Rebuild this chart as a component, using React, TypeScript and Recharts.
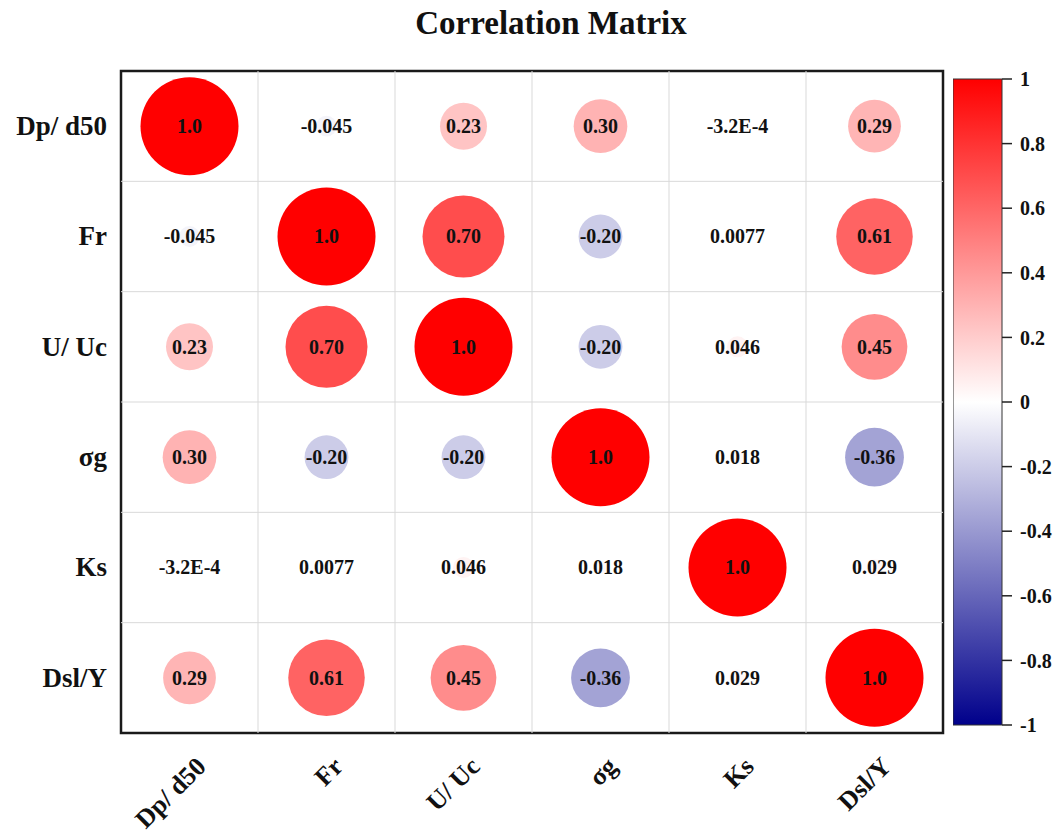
import React from 'react';
import {
  ScatterChart,
  Scatter,
  XAxis,
  YAxis,
  ZAxis,
  ReferenceLine,
  ReferenceArea,
  ComposedChart,
  Bar,
} from 'recharts';

// Variable names, shared by rows (top to bottom) and columns (left to right)
const variables = ['Dp/ d50', 'Fr', 'U/ Uc', 'σg', 'Ks', 'Dsl/Y'];

// Pearson correlation coefficients, one row per variable
const rowDp = [1.0, -0.045, 0.23, 0.3, -3.2e-4, 0.29];
const rowFr = [-0.045, 1.0, 0.7, -0.2, 0.0077, 0.61];
const rowUUc = [0.23, 0.7, 1.0, -0.2, 0.046, 0.45];
const rowSigma = [0.3, -0.2, -0.2, 1.0, 0.018, -0.36];
const rowKs = [-3.2e-4, 0.0077, 0.046, 0.018, 1.0, 0.029];
const rowDsl = [0.29, 0.61, 0.45, -0.36, 0.029, 1.0];

const matrixRows = [rowDp, rowFr, rowUUc, rowSigma, rowKs, rowDsl];

// Colour-bar range and tick values
const colorbarRange = [-1, 1];
const colorbarTicks = [-1, -0.8, -0.6, -0.4, -0.2, 0, 0.2, 0.4, 0.6, 0.8, 1];

const SERIF = '"Liberation Serif", "Times New Roman", Times, serif';
const MAX_RADIUS = 49;

const n = variables.length;
const centerTicks = variables.map((_, i) => i + 0.5);
const gridLines = variables.slice(1).map((_, i) => i + 1);

const cells = matrixRows.flatMap((row, r) =>
  row.map((value, c) => ({
    x: c + 0.5,
    y: r + 0.5,
    value,
    absR: Math.abs(value),
  }))
);

const colorbarData = [{ name: 'r', band: colorbarRange }];

// white -> red for positive, white -> navy for negative
function corrColor(v: number): string {
  const t = Math.min(1, Math.abs(v));
  if (v >= 0) {
    const g = Math.round(255 * (1 - t));
    return `rgb(255,${g},${g})`;
  }
  const rg = Math.round(255 * (1 - t));
  const b = Math.round(255 - 116 * t);
  return `rgb(${rg},${rg},${b})`;
}

function formatCorr(v: number): string {
  if (Math.abs(v) < 0.001 && v !== 0) {
    return v.toExponential(1).toUpperCase();
  }
  return v.toPrecision(2);
}

const CorrCell = (props: any) => {
  const { cx, cy, width, size, payload } = props;
  let rad = typeof width === 'number' ? width / 2 : Math.sqrt(Math.max(size || 0, 0) / Math.PI);
  if (!isFinite(rad)) rad = 0;
  return (
    <g>
      <circle cx={cx} cy={cy} r={rad} fill={corrColor(payload.value)} />
      <text
        x={cx}
        y={cy}
        dy="0.34em"
        textAnchor="middle"
        fontFamily={SERIF}
        fontWeight={700}
        fontSize={20}
        fill="#111"
      >
        {formatCorr(payload.value)}
      </text>
    </g>
  );
};

const YTick = (props: any) => {
  const { x, y, payload } = props;
  return (
    <text
      x={x}
      y={y}
      dy="0.33em"
      textAnchor="end"
      fontFamily={SERIF}
      fontWeight={700}
      fontSize={27}
      fill="#111"
    >
      {variables[Math.floor(payload.value)]}
    </text>
  );
};

const XTick = (props: any) => {
  const { x, y, payload } = props;
  const ax = x + 18;
  const ay = y + 35;
  return (
    <text
      x={ax}
      y={ay}
      textAnchor="end"
      transform={`rotate(-45, ${ax}, ${ay})`}
      fontFamily={SERIF}
      fontWeight={700}
      fontSize={26}
      fill="#111"
    >
      {variables[Math.floor(payload.value)]}
    </text>
  );
};

export default function App() {
  return (
    <div
      style={{
        position: 'absolute',
        left: 0,
        top: 0,
        width: 1059,
        height: 832,
        background: '#fff',
        fontFamily: SERIF,
      }}
    >
      <div
        style={{
          position: 'absolute',
          left: 0,
          top: 7,
          width: 1102,
          textAlign: 'center',
          fontFamily: SERIF,
          fontWeight: 700,
          fontSize: 33,
          lineHeight: '33px',
          color: '#111',
        }}
      >
        Correlation Matrix
      </div>

      <div style={{ position: 'absolute', left: 0, top: 0 }}>
        <ScatterChart
          width={1059}
          height={832}
          margin={{ top: 71, left: 11, right: 116, bottom: 39 }}
        >
          <XAxis
            type="number"
            dataKey="x"
            domain={[0, n]}
            ticks={centerTicks}
            interval={0}
            axisLine={false}
            tickLine={false}
            tickSize={0}
            tickMargin={0}
            height={60}
            tick={<XTick />}
            allowDataOverflow
          />
          <YAxis
            type="number"
            dataKey="y"
            domain={[0, n]}
            reversed
            ticks={centerTicks}
            interval={0}
            axisLine={false}
            tickLine={false}
            tickSize={0}
            tickMargin={14}
            width={110}
            tick={<YTick />}
            allowDataOverflow
          />
          <ZAxis
            type="number"
            dataKey="absR"
            domain={[0, 1]}
            range={[0, Math.PI * MAX_RADIUS * MAX_RADIUS]}
          />
          {gridLines.map((g) => (
            <ReferenceLine key={`vx${g}`} x={g} stroke="#d9d9d9" strokeWidth={1} />
          ))}
          {gridLines.map((g) => (
            <ReferenceLine key={`hy${g}`} y={g} stroke="#d9d9d9" strokeWidth={1} />
          ))}
          <Scatter data={cells} shape={<CorrCell />} isAnimationActive={false} />
          <ReferenceArea
            x1={0}
            x2={n}
            y1={0}
            y2={n}
            fill="none"
            fillOpacity={0}
            stroke="#1a1a1a"
            strokeWidth={2.5}
            ifOverflow="visible"
          />
        </ScatterChart>
      </div>

      <div style={{ position: 'absolute', left: 953, top: 0 }}>
        <ComposedChart
          width={106}
          height={832}
          margin={{ top: 79, bottom: 107, left: 0, right: 0 }}
          data={colorbarData}
          barCategoryGap={0}
        >
          <defs>
            <linearGradient id="corrScale" x1="0" y1="0" x2="0" y2="1">
              <stop offset="0%" stopColor="rgb(255,0,0)" />
              <stop offset="50%" stopColor="rgb(255,255,255)" />
              <stop offset="100%" stopColor="rgb(0,0,139)" />
            </linearGradient>
          </defs>
          <XAxis type="category" dataKey="name" hide />
          <YAxis
            type="number"
            orientation="right"
            domain={[-1, 1]}
            ticks={colorbarTicks}
            interval={0}
            width={57}
            axisLine={false}
            tickSize={10}
            tickMargin={8}
            tickLine={{ stroke: '#222', strokeWidth: 1.5 }}
            tickFormatter={(v: number) => String(Number(v.toFixed(1)))}
            tick={{ fontSize: 20, fontWeight: 700, fill: '#111', fontFamily: SERIF }}
          />
          <Bar
            dataKey="band"
            fill="url(#corrScale)"
            stroke="#333"
            strokeWidth={1}
            isAnimationActive={false}
          />
        </ComposedChart>
      </div>
    </div>
  );
}
